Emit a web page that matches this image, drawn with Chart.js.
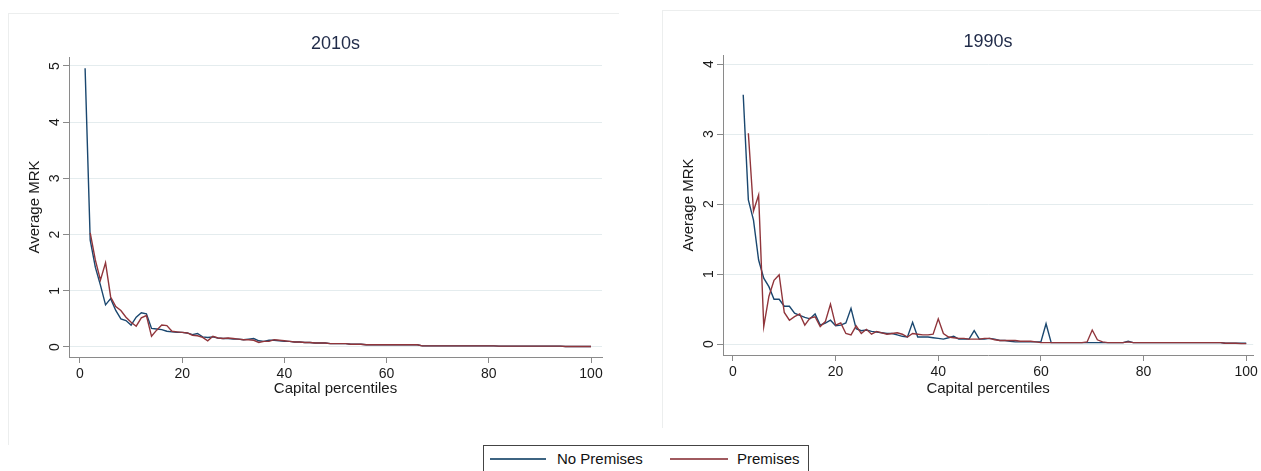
<!DOCTYPE html>
<html><head><meta charset="utf-8">
<script src="https://cdn.jsdelivr.net/npm/chart.js@4.4.1/dist/chart.umd.min.js"></script>
<style>
html,body{margin:0;padding:0;background:#fff;}
body{width:1261px;height:471px;position:relative;overflow:hidden;font-family:"Liberation Sans",Arial,sans-serif;}
.frame{position:absolute;border-top:1px solid #eceeee;border-left:1px solid #eceeee;box-sizing:border-box;}
canvas{position:absolute;}
#legend{position:absolute;left:483px;top:445px;width:326px;height:32px;border:1px solid #444;box-sizing:border-box;background:#fff;}
.sw{position:absolute;height:2px;}
.lt{position:absolute;font-size:15px;color:#111;line-height:17px;white-space:nowrap;}
</style>
</head><body>
<div class="frame" style="left:8px;top:13px;width:611px;height:432px;"></div>
<div class="frame" style="left:662px;top:10px;width:599px;height:418px;"></div>
<canvas id="c1" width="610" height="427" style="left:8px;top:13px;width:610px;height:427px;"></canvas>
<canvas id="c2" width="599" height="418" style="left:662px;top:10px;width:599px;height:418px;"></canvas>
<div id="legend">
  <div class="sw" style="left:6px;top:12px;width:56px;background:#3d6482;"></div>
  <div class="lt" style="left:73px;top:4px;">No Premises</div>
  <div class="sw" style="left:186px;top:12px;width:58px;background:#a05a5f;"></div>
  <div class="lt" style="left:253px;top:4px;">Premises</div>
</div>
<script>
const percentiles = Array.from({length:100}, (_, i) => i + 1);
const xTicks = [0, 20, 40, 60, 80, 100];
const yTicks2010 = [0, 1, 2, 3, 4, 5];
const yTicks1990 = [0, 1, 2, 3, 4];
const seriesNames = ['No Premises', 'Premises'];

const noPrem2010 = [
 4.96,1.90,1.42,1.10,0.75,0.86,0.65,0.50,0.47,0.39,
 0.53,0.61,0.59,0.33,0.32,0.31,0.28,0.27,0.26,0.26,
 0.25,0.22,0.24,0.18,0.17,0.18,0.16,0.15,0.15,0.14,
 0.14,0.13,0.14,0.15,0.11,0.10,0.12,0.12,0.11,0.10,
 0.10,0.09,0.09,0.08,0.08,0.07,0.07,0.07,0.06,0.06,
 0.06,0.06,0.05,0.05,0.05,0.04,0.04,0.04,0.04,0.04,
 0.04,0.04,0.04,0.04,0.04,0.04,0.02,0.02,0.02,0.02,
 0.02,0.02,0.02,0.02,0.02,0.02,0.02,0.02,0.02,0.02,
 0.02,0.015,0.015,0.015,0.015,0.015,0.015,0.015,0.015,0.015,
 0.015,0.015,0.015,0.015,0.01,0.01,0.01,0.01,0.01,0.01
];
const prem2010 = [
 null,2.03,1.55,1.19,1.50,0.89,0.72,0.65,0.53,0.44,
 0.37,0.52,0.56,0.19,0.30,0.39,0.38,0.28,0.27,0.26,
 0.25,0.21,0.20,0.17,0.11,0.19,0.16,0.15,0.16,0.15,
 0.14,0.13,0.13,0.12,0.08,0.10,0.10,0.13,0.12,0.11,
 0.10,0.09,0.09,0.08,0.08,0.07,0.07,0.07,0.06,0.06,
 0.06,0.06,0.05,0.05,0.05,0.04,0.04,0.04,0.04,0.04,
 0.04,0.04,0.04,0.04,0.04,0.04,0.02,0.02,0.02,0.02,
 0.02,0.02,0.02,0.02,0.02,0.02,0.02,0.02,0.02,0.02,
 0.02,0.015,0.015,0.015,0.015,0.015,0.015,0.015,0.015,0.015,
 0.015,0.015,0.015,0.015,0.01,0.01,0.01,0.01,0.01,0.01
];
const noPrem1990 = [
 null,3.56,2.06,1.77,1.20,0.94,0.82,0.64,0.64,0.54,
 0.54,0.44,0.41,0.38,0.36,0.43,0.27,0.30,0.34,0.26,
 0.27,0.30,0.51,0.22,0.19,0.20,0.18,0.17,0.16,0.15,
 0.15,0.13,0.11,0.10,0.31,0.10,0.10,0.10,0.09,0.08,
 0.07,0.09,0.11,0.07,0.07,0.07,0.19,0.07,0.07,0.08,
 0.07,0.05,0.05,0.04,0.03,0.03,0.03,0.03,0.03,0.03,
 0.29,0.02,0.02,0.02,0.02,0.02,0.02,0.02,0.02,0.02,
 0.02,0.02,0.02,0.02,0.02,0.02,0.04,0.02,0.02,0.02,
 0.02,0.02,0.02,0.02,0.02,0.02,0.02,0.02,0.02,0.02,
 0.02,0.02,0.02,0.02,0.02,0.01,0.01,0.01,0.01,0.01
];
const prem1990 = [
 null,null,3.01,1.90,2.13,0.25,0.68,0.91,0.99,0.45,
 0.34,0.39,0.43,0.27,0.37,0.39,0.25,0.32,0.57,0.27,
 0.30,0.15,0.13,0.26,0.15,0.21,0.14,0.18,0.16,0.14,
 0.15,0.16,0.14,0.10,0.15,0.14,0.13,0.13,0.14,0.36,
 0.15,0.10,0.09,0.08,0.08,0.07,0.07,0.07,0.08,0.08,
 0.06,0.05,0.05,0.05,0.05,0.04,0.04,0.04,0.03,0.02,
 0.02,0.02,0.02,0.02,0.02,0.02,0.02,0.02,0.03,0.20,
 0.06,0.03,0.02,0.02,0.02,0.02,0.03,0.02,0.02,0.02,
 0.02,0.02,0.02,0.02,0.02,0.02,0.02,0.02,0.02,0.02,
 0.02,0.02,0.02,0.02,0.02,0.01,0.01,0.01,0.005,0.005
];

const FONT = '"Liberation Sans", Arial, sans-serif';
const AXIS = '#8a8a8a';
const GRID = '#e4ecee';
const TXT = '#1a1a1a';

function makeChart(id, title, blue, red, yTicks, L) {
  const pts = arr => percentiles.map((p, i) => ({x: p, y: arr[i]}));
  return new Chart(document.getElementById(id), {
    type: 'line',
    data: {
      datasets: [
        {label: seriesNames[0], data: pts(blue), borderColor: '#1a476f', borderWidth: 1.4, pointRadius: 0, tension: 0, order: 1, spanGaps: false},
        {label: seriesNames[1], data: pts(red), borderColor: '#90353b', borderWidth: 1.4, pointRadius: 0, tension: 0, order: 0, spanGaps: false}
      ]
    },
    options: {
      responsive: false, animation: false, events: [],
      layout: {padding: {left: 0, right: L.right, top: 0, bottom: 0}},
      plugins: {
        legend: {display: false}, tooltip: {enabled: false},
        title: {display: true, text: title, fullSize: false, color: '#1f2a48',
                font: {family: FONT, size: 18, weight: 'normal', lineHeight: 1.2},
                padding: {top: L.titleTop, bottom: 2.4}}
      },
      scales: {
        x: {
          type: 'linear', min: L.xmin, max: L.xmax,
          afterBuildTicks: s => { s.ticks = xTicks.map(v => ({value: v})); },
          afterFit: s => { s.height = L.xh; },
          grid: {drawOnChartArea: false, tickLength: 6, tickColor: AXIS, tickWidth: 1},
          border: {color: AXIS, width: 1},
          ticks: {color: TXT, font: {family: FONT, size: 14}, padding: 3, maxRotation: 0, autoSkip: false},
          title: {display: true, text: 'Capital percentiles', color: TXT, font: {family: FONT, size: 15, lineHeight: 1.2}, padding: {top: 0, bottom: L.xtb}}
        },
        y: {
          type: 'linear', min: L.ymin, max: L.ymax,
          afterBuildTicks: s => { s.ticks = yTicks.map(v => ({value: v})); },
          afterFit: s => { s.width = 61; },
          grid: {color: GRID, lineWidth: 1, tickLength: 6, tickColor: AXIS, drawTicks: true},
          border: {color: AXIS, width: 1},
          ticks: {color: TXT, font: {family: FONT, size: 14}, padding: 4, minRotation: 90, maxRotation: 90, crossAlign: 'center', autoSkip: false},
          title: {display: true, text: 'Average MRK', color: TXT, font: {family: FONT, size: 15, lineHeight: 1.2}, padding: {top: 18, bottom: 0}}
        }
      }
    }
  });
}

makeChart('c1', '2010s', noPrem2010, prem2010, yTicks2010,
  {right: 16, titleTop: 20, xh: 83, xtb: 42, xmin: -2.15, xmax: 102.15, ymin: -0.178, ymax: 5.16});
makeChart('c2', '1990s', noPrem1990, prem1990, yTicks1990,
  {right: 5, titleTop: 21, xh: 73, xtb: 30, xmin: -1.94, xmax: 101.36, ymin: -0.157, ymax: 4.129});
</script>
</body></html>
